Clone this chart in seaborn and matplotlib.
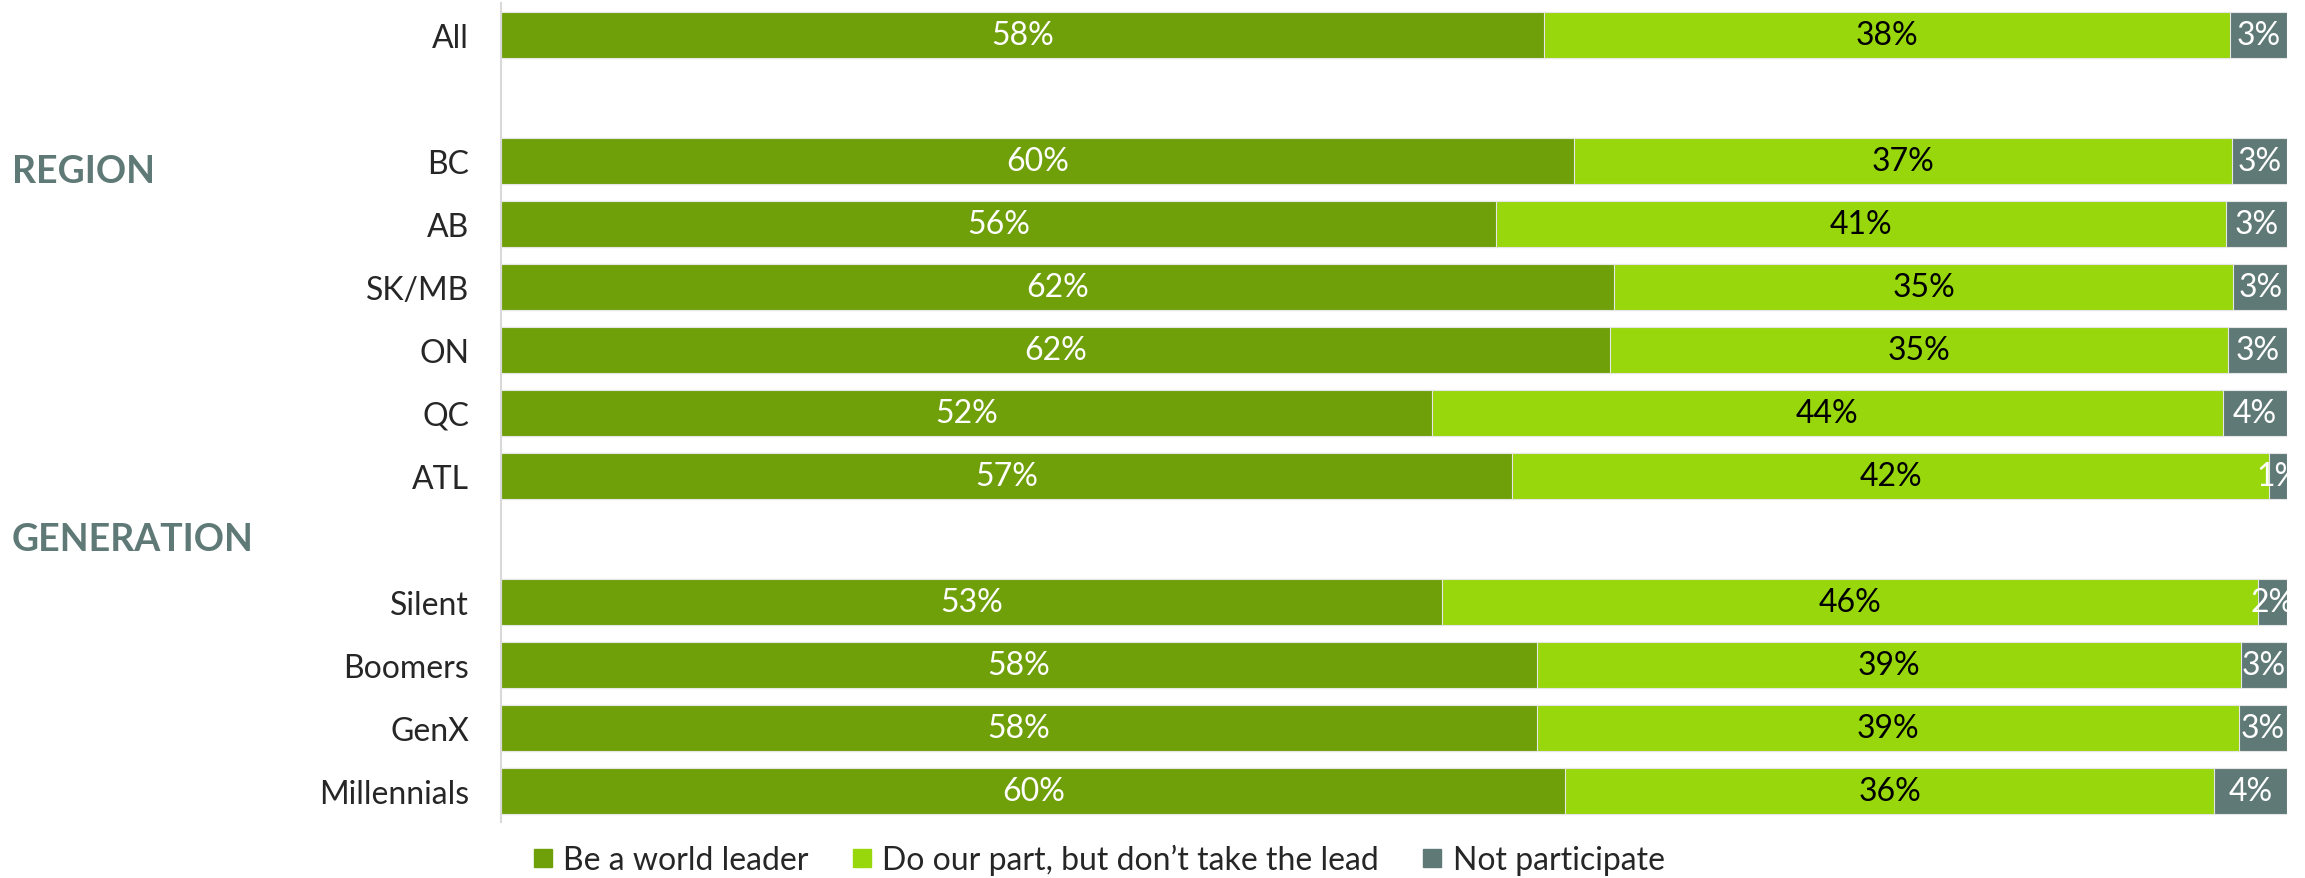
import seaborn as sns
from matplotlib import pyplot as plt
from matplotlib import lines as mlines
from matplotlib import transforms as mtransforms
import numpy as np

# rows and section names
groupNames = ["", "REGION", "GENERATION"]
groupRows = [
	["All"],
	["BC", "AB", "SK/MB", "ON", "QC", "ATL"],
	["Silent", "Boomers", "GenX", "Millennials"],
]

# shares in %
leader = [58.4, 60.1, 55.7, 62.3, 62.1, 52.1, 56.6, 52.7, 58.0, 58.0, 59.6]
ourPart = [38.4, 36.8, 40.9, 34.7, 34.6, 44.3, 42.4, 45.7, 39.4, 39.3, 36.3]
notPart = [3.2, 3.1, 3.4, 3.0, 3.3, 3.6, 1.0, 1.6, 2.6, 2.7, 4.1]

seriesNames = ["Be a world leader", "Do our part, but don\u2019t take the lead", "Not participate"]
colors = ["#6fa00a", "#97d70b", "#5f7a76"]
textColors = ["white", "black", "white"]

if __name__ == "__main__":
	sns.set_style("white")
	plt.rcParams["font.family"] = ["Lato", "DejaVu Sans"]
	fs = 23

	# y slot per row, one empty slot between groups
	labels = []
	pos = []
	groupStart = []
	slot = 0
	for g, rows in enumerate(groupRows):
		if g > 0:
			slot += 1
		groupStart.append(slot)
		for r in rows:
			labels.append(r)
			pos.append(slot)
			slot += 1
	pos = np.array(pos, dtype=float)

	vals = np.array([leader, ourPart, notPart])
	cum = np.cumsum(vals, axis=0)

	fig = plt.figure(figsize=(23.05, 8.79), dpi=100)
	ax = fig.add_axes([501/2305, 0.0637, (2287-501)/2305, 0.9954-0.0637])

	# draw cumulative bars back to front
	for i in range(2, -1, -1):
		sns.barplot(x=cum[i], y=pos, orient="h", native_scale=True, color=colors[i],
			width=0.73, saturation=1, edgecolor="#e6e6e6", linewidth=0.8, ax=ax)

	# segment labels
	for i in range(3):
		left = cum[i] - vals[i]
		for j in range(len(pos)):
			ax.text(left[j] + vals[i][j]/2, pos[j], f"{vals[i][j]:.0f}%", ha="center", va="center",
				fontsize=fs, color=textColors[i], clip_on=True)

	ax.set_xlim(0, 100)
	ax.set_ylim(slot - 0.5, -0.5)
	ax.set_yticks(pos)
	ax.set_yticklabels(labels, fontsize=fs)
	ax.tick_params(axis="y", length=0, pad=23)
	ax.set_xticks([])
	ax.set_xlabel("")
	ax.set_ylabel("")
	for s in ["top", "right", "bottom"]:
		ax.spines[s].set_visible(False)
	ax.spines["left"].set_color("#d9d9d9")
	ax.spines["left"].set_linewidth(1.5)

	# section headings
	offsets = {"REGION": 0.17, "GENERATION": -1.0}
	trans = mtransforms.blended_transform_factory(fig.transFigure, ax.transData)
	for g, name in enumerate(groupNames):
		if name == "":
			continue
		ax.text(12/2305, groupStart[g] + offsets[name], name, transform=trans,
			ha="left", va="center", fontsize=27, fontweight="bold", color="#5f7a76")

	handles = [mlines.Line2D([], [], color=c, marker="s", linestyle="None", markersize=13, label=n)
		for c, n in zip(colors, seriesNames)]
	fig.legend(handles=handles, loc="center", bbox_to_anchor=(1098/2305, 0.021), ncol=3, frameon=False,
		fontsize=fs, handlelength=0.7, handletextpad=0.3, columnspacing=1.3)

	fig.savefig("out.png", dpi=100)
